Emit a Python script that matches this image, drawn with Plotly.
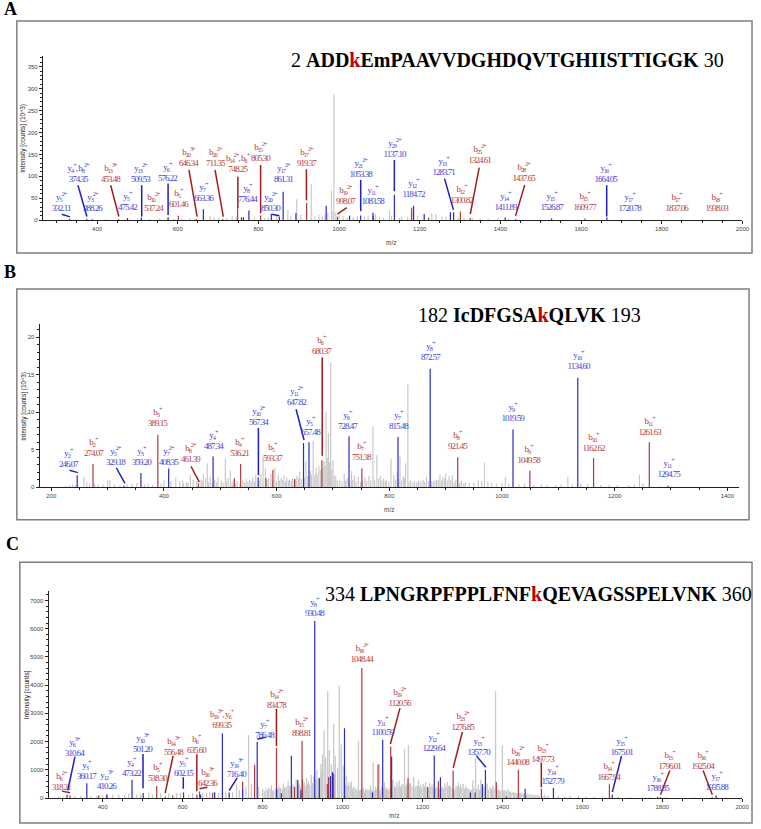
import plotly.graph_objects as go

W, H = 761, 829

# ---------- Panel A ----------
A_red_mz = [453.5, 601.5, 646.3, 711.3, 748.3, 805.3, 919.4, 996, 1085, 1180, 1222, 1300.8, 1325, 1437.7, 1609.8]
A_red_int = [3, 10, 3, 3, 26, 11, 39, 8, 10, 27, 6, 20, 5, 3, 4]
A_blue_mz = [332.1, 374.4, 388.3, 475.4, 509.5, 576.2, 663.4, 758, 763, 776.4, 832, 852, 861.3, 893, 968, 1026, 1053.4, 1084, 1137.1, 1184.7, 1211, 1276, 1284, 1411.9, 1526.9, 1664]
A_blue_int = [3, 3, 2, 5, 6, 6, 25, 7, 7, 22, 14, 8, 65, 16, 33, 10, 11, 17, 58, 33, 14, 18, 18, 6, 4, 6]
A_gray_mz = [310, 345, 420, 470, 500, 530, 555, 575, 590, 610, 630, 642, 680, 690, 702, 722, 735, 745, 790, 815, 825, 845, 873, 880, 895, 905, 931, 940, 950, 958, 965, 972, 981, 985, 987, 992, 1000, 1010, 1020, 1035, 1045, 1063, 1072, 1090, 1100, 1110, 1125, 1130, 1150, 1155, 1170, 1179, 1195, 1230, 1240, 1255, 1265, 1295, 1310, 1330, 1350, 1370, 1395, 1420]
A_gray_int = [2, 2, 2, 2, 2, 3, 4, 6, 3, 4, 5, 4, 10, 7, 6, 5, 9, 8, 6, 5, 7, 10, 23, 9, 48, 12, 83, 8, 12, 9, 14, 17, 67, 20, 287, 18, 12, 9, 6, 7, 9, 8, 10, 14, 7, 6, 22, 10, 6, 8, 7, 30, 10, 16, 14, 9, 8, 7, 6, 5, 4, 4, 5, 3]
A_names = ["y<sub>5</sub><sup>2+</sup>", "y<sub>4</sub><sup>+</sup>, b<sub>8</sub><sup>2+</sup>", "y<sub>3</sub><sup>2+</sup>", "b<sub>13</sub><sup>3+</sup>", "y<sub>5</sub><sup>+</sup>", "y<sub>13</sub><sup>2+</sup>", "b<sub>10</sub><sup>2+</sup>", "y<sub>6</sub><sup>+</sup>", "b<sub>5</sub><sup>+</sup>", "b<sub>20</sub><sup>3+</sup>", "y<sub>7</sub><sup>+</sup>", "b<sub>20</sub><sup>2+</sup>", "b<sub>14</sub><sup>2+</sup>, b<sub>6</sub><sup>+</sup>", "y<sub>8</sub><sup>+</sup>", "b<sub>15</sub><sup>2+</sup>", "y<sub>20</sub><sup>2+</sup>", "y<sub>17</sub><sup>2+</sup>", "b<sub>17</sub><sup>2+</sup>", "b<sub>19</sub><sup>2+</sup>", "y<sub>21</sub><sup>2+</sup>", "y<sub>11</sub><sup>+</sup>", "y<sub>23</sub><sup>2+</sup>", "y<sub>12</sub><sup>+</sup>", "y<sub>13</sub><sup>+</sup>", "b<sub>12</sub><sup>+</sup>", "b<sub>25</sub><sup>2+</sup>", "y<sub>14</sub><sup>+</sup>", "b<sub>28</sub><sup>2+</sup>", "y<sub>15</sub><sup>+</sup>", "b<sub>15</sub><sup>+</sup>", "y<sub>16</sub><sup>+</sup>", "y<sub>17</sub><sup>+</sup>", "b<sub>17</sub><sup>+</sup>", "b<sub>18</sub><sup>+</sup>"]
A_values = ["332.11", "374.35", "388.26", "453.48", "475.42", "509.53", "537.24", "576.22", "601.46", "646.34", "663.36", "711.35", "748.25", "776.44", "805.30", "850.30", "861.31", "919.37", "998.07", "1053.38", "1083.58", "1137.10", "1184.72", "1283.71", "1300.82", "1324.61", "1411.89", "1437.65", "1526.87", "1609.77", "1664.05", "1720.78", "1837.06", "1938.03"]
A_label_px = [62, 79, 93, 112, 129, 142, 155, 169, 180, 190, 205, 217, 240, 250, 263, 273, 286, 309, 349, 364, 376, 398, 417, 448, 466, 484, 510, 529, 557, 590, 612, 636, 683, 724]
A_label_py = [202, 173, 202, 173, 201, 173, 202, 172, 198, 157, 192, 157, 163, 193, 152, 202, 173, 157, 195, 168, 195, 148, 188, 166, 194, 154, 201, 172, 201, 201, 173, 202, 202, 202]
A_lead_blue = [(312.4, 13.7, 332.8, 7.6), (352.5, 79.7, 374.6, 8.3), (510.6, 79.7, 510.6, 8.3), (576, 83.5, 576, 12), (832.4, 13.7, 852, 10), (1053.6, 91.8, 1053.6, 20.5), (1137, 137.4, 1137, 66), (1261.4, 94.9, 1283.5, 23.5), (1663.5, 79.7, 1663.5, 8.3)]
A_lead_red = [(433.6, 79.7, 454, 8.3), (627.7, 114.6, 648, 8.3), (692.4, 114.6, 712.9, 8.3), (749, 99.4, 749, 26.6), (805.4, 126, 805.4, 16), (919, 116, 919, 45.5), (1019, 28.8, 996, 13.7), (1347.4, 120, 1325.3, 13.7), (1460.4, 80.5, 1437.5, 9.9)]

# ---------- Panel B ----------
B_red_mz = [274.1, 389.2, 461.4, 525, 536.2, 581, 593.4, 632, 680.4, 751.4, 921.5, 1049.6, 1162.6, 1261.6]
B_red_int = [3.1, 7.0, 0.5, 1.2, 3.1, 1.2, 2.3, 1.1, 3.6, 2.5, 4.0, 2.2, 3.9, 6.0]
B_blue_mz = [246.1, 329.2, 359.2, 408.4, 487.3, 567.3, 647.8, 657.5, 728.5, 815.5, 872.6, 1019.6, 1134.6, 1294.8]
B_blue_int = [1.6, 0.2, 1.9, 2.5, 4.1, 1.3, 5.9, 6.0, 6.8, 6.7, 15.8, 7.7, 14.6, 0.2]
B_gray_mz = [225, 232, 238, 243, 258, 263, 268, 277, 283, 292, 300, 304, 312, 322, 335, 343, 352, 366, 372, 380, 395, 400, 412, 421, 428, 433, 440, 447, 452, 458, 466, 470, 474, 477, 482, 490, 496, 502, 509, 514, 518, 524, 530, 540, 546, 552, 558, 563, 572, 576, 580, 586, 590, 597, 603, 608, 613, 618, 623, 628, 636, 641, 652, 660, 665, 670, 675, 684, 688, 692, 696, 700, 705, 712, 720, 725, 733, 738, 745, 757, 764, 771, 778, 784, 790, 795, 803, 808, 814, 819, 825, 829, 833, 838, 845, 852, 860, 866, 878, 884, 890, 895, 900, 906, 912, 918, 928, 935, 942, 950, 958, 964, 969, 975, 982, 990, 1000, 1006, 1012, 1030, 1040, 1056, 1070, 1080, 1095, 1105, 1117, 1125, 1140, 1152, 1175, 1190, 1205, 1225, 1235, 1244, 1250, 1280, 1300,
             435, 443, 461, 468, 479, 486, 493, 505, 511, 521, 527, 535, 543, 549, 555, 561, 569, 583, 593, 600, 605, 611, 616, 621, 626, 631, 634, 639, 644, 649, 655, 662, 668, 672, 678, 682, 686, 690, 694, 698, 702, 708, 716, 722, 730, 735, 741, 749, 753, 760, 767, 774, 781, 787, 793, 799, 811, 817, 822, 827, 835, 842, 849, 856, 863, 870, 875, 881, 887, 893, 898, 903, 909, 915, 925, 932]
B_gray_int = [0.2, 0.3, 0.4, 0.3, 1.4, 0.7, 0.5, 0.5, 0.4, 0.4, 0.9, 1.0, 0.4, 0.3, 0.4, 0.5, 0.6, 0.4, 0.5, 0.3, 0.5, 0.9, 0.8, 1.3, 0.8, 0.9, 0.7, 1.6, 1.0, 0.8, 1.0, 1.7, 1.2, 3.2, 1.4, 1.0, 1.3, 0.9, 3.8, 1.2, 2.2, 0.9, 0.8, 0.9, 1.1, 1.0, 1.3, 1.7, 1.8, 4.0, 2.5, 1.2, 1.8, 2.6, 1.7, 1.2, 1.6, 1.3, 1.0, 1.2, 1.5, 2.1, 3.5, 2.2, 6.2, 2.6, 2.8, 3.5, 10.1, 7.2, 16.6, 3.6, 1.5, 1.0, 1.8, 1.2, 2.2, 1.6, 1.4, 1.3, 1.5, 8.1, 4.3, 1.5, 1.2, 1.0, 3.8, 1.6, 2.0, 4.1, 1.5, 3.2, 13.7, 1.0, 0.8, 0.9, 1.0, 1.4, 0.8, 1.0, 1.7, 1.4, 1.8, 1.5, 1.6, 1.0, 0.9, 0.7, 0.6, 0.6, 0.9, 0.8, 3.3, 0.8, 0.6, 0.5, 0.6, 1.4, 0.5, 0.4, 0.5, 0.3, 0.4, 0.3, 0.3, 0.4, 1.4, 0.4, 0.5, 0.4, 0.3, 0.3, 0.3, 0.3, 0.4, 1.7, 0.5, 0.2, 0.2,
              0.5, 0.6, 0.6, 0.8, 0.7, 0.6, 0.7, 0.6, 0.8, 0.6, 0.5, 0.6, 0.6, 0.7, 0.8, 0.7, 0.9, 1.0, 0.9, 0.8, 0.9, 1.0, 0.8, 0.9, 0.8, 0.9, 1.0, 1.2, 1.1, 1.3, 1.5, 1.7, 1.6, 1.8, 2.3, 2.6, 2.9, 3.9, 3.3, 2.4, 1.6, 0.9, 0.8, 0.9, 0.8, 1.0, 0.8, 0.7, 0.8, 0.8, 0.9, 1.0, 1.1, 0.9, 0.8, 0.7, 1.0, 1.1, 0.9, 1.2, 0.7, 0.6, 0.7, 0.8, 0.7, 0.8, 0.8, 0.9, 1.0, 0.9, 1.1, 0.9, 1.0, 0.7, 0.6, 0.5]
B_names = ["y<sub>2</sub><sup>+</sup>", "b<sub>2</sub><sup>+</sup>", "y<sub>5</sub><sup>2+</sup>", "y<sub>3</sub><sup>+</sup>", "b<sub>3</sub><sup>+</sup>", "y<sub>7</sub><sup>2+</sup>", "b<sub>8</sub><sup>2+</sup>", "y<sub>4</sub><sup>+</sup>", "b<sub>4</sub><sup>+</sup>", "y<sub>10</sub><sup>2+</sup>", "b<sub>5</sub><sup>+</sup>", "y<sub>11</sub><sup>2+</sup>", "y<sub>5</sub><sup>+</sup>", "b<sub>6</sub><sup>+</sup>", "y<sub>6</sub><sup>+</sup>", "b<sub>7</sub><sup>+</sup>", "y<sub>7</sub><sup>+</sup>", "y<sub>8</sub><sup>+</sup>", "b<sub>8</sub><sup>+</sup>", "y<sub>9</sub><sup>+</sup>", "b<sub>9</sub><sup>+</sup>", "y<sub>10</sub><sup>+</sup>", "b<sub>10</sub><sup>+</sup>", "b<sub>11</sub><sup>+</sup>", "y<sub>11</sub><sup>+</sup>"]
B_values = ["246.07", "274.07", "329.18", "359.20", "389.15", "408.35", "461.39", "487.34", "536.21", "567.34", "593.37", "647.82", "657.48", "680.37", "728.47", "751.38", "815.48", "872.57", "921.45", "1019.59", "1049.58", "1134.60", "1162.62", "1261.63", "1294.75"]
B_label_px = [69, 94, 117, 143, 159, 170, 192, 215, 242, 261, 275, 299, 313, 324, 351, 365, 402, 434, 462, 518, 534, 584, 599, 656, 675]
B_label_py = [459, 448, 457, 457, 418, 457, 454, 441, 448, 417, 453, 397, 427, 346, 421, 452, 421, 352, 441, 413, 455, 361, 443, 427, 469]
B_lead_blue = [(232.3, 2.26, 247.5, 1.95), (315.5, 2.6, 330.8, 0.5), (567.7, 7.9, 567.7, 1.6), (634.6, 10.4, 648.7, 6.3)]
B_lead_red = [(448, 2.8, 462.8, 0.67), (681, 17.3, 681, 4.2)]

# ---------- Panel C ----------
C_red_mz = [318.2, 390, 410, 535, 556.5, 575, 635.6, 642.4, 675, 750, 780, 834.8, 880, 898.8, 900, 962, 965, 978, 1005, 1048.4, 1089, 1120.6, 1164, 1213, 1240, 1276.9, 1332, 1385, 1440.1, 1497.7, 1667.9, 1796, 1925]
C_red_int = [90, 100, 90, 430, 60, 90, 120, 230, 190, 590, 1180, 1780, 390, 2020, 670, 500, 740, 860, 120, 4610, 1190, 1830, 700, 390, 600, 980, 200, 560, 1000, 330, 490, 40, 40]
C_blue_mz = [310.6, 360.2, 410.3, 473.2, 501.2, 602.2, 645, 680, 699.4, 716.4, 750, 786.5, 835, 847, 872, 888, 896, 930.5, 942, 970, 975, 1005, 1075, 1100.6, 1123, 1229.6, 1245, 1320, 1350, 1357.7, 1410, 1457, 1527.8, 1675, 1788.9, 1935]
C_blue_int = [120, 530, 130, 650, 180, 200, 120, 210, 2300, 200, 320, 2000, 330, 170, 1500, 640, 280, 6270, 700, 780, 920, 2470, 200, 2070, 1470, 1510, 740, 200, 500, 1000, 50, 330, 360, 130, 50, 90]
C_gray_mz = [290, 300, 330, 345, 370, 385, 400, 425, 440, 455, 465, 485, 495, 515, 525, 545, 565, 585, 595, 615, 625, 650, 660, 668, 690, 708, 725, 735, 742, 758, 765, 772, 790, 800, 808, 815, 822, 828, 840, 845, 852, 858, 864, 868, 876, 884, 892, 904, 910, 915, 922, 928, 936, 946, 950, 954, 958, 963, 967, 972, 978, 982, 988, 992, 997, 1002, 1010, 1016, 1022, 1028, 1034, 1040, 1045, 1052, 1058, 1064, 1070, 1077, 1083, 1092, 1098, 1105, 1110, 1116, 1126, 1130, 1136, 1142, 1148, 1155, 1160, 1165, 1170, 1178, 1184, 1190, 1196, 1202, 1208, 1218, 1224, 1230, 1236, 1250, 1256, 1262, 1268, 1284, 1290, 1296, 1302, 1308, 1314, 1326, 1333, 1340, 1346, 1354, 1362, 1370, 1376, 1383, 1390, 1400, 1406, 1414, 1420, 1428, 1434, 1446, 1452, 1464, 1472, 1480, 1488, 1505, 1515, 1540, 1555, 1570, 1590, 1610, 1630, 1650, 1690, 1720, 1750, 1770, 1810, 1850, 1880, 1960,
             804, 812, 819, 825, 833, 837, 843, 849, 855, 861, 866, 871, 879, 887, 890, 895, 901, 907, 912, 918, 925, 931, 934, 939, 944, 948, 1007, 1013, 1019, 1025, 1031, 1037, 1043, 1048, 1055, 1061, 1067, 1073, 1080, 1086, 1095, 1102, 1108, 1113, 1119, 1123, 1133, 1139, 1145, 1151, 1158, 1163, 1168, 1174, 1181, 1187, 1193, 1199, 1205, 1211, 1215, 1221, 1227, 1233, 1239, 1243, 1247, 1253, 1259, 1265, 1271, 1275, 1280, 1287, 1293, 1299, 1305, 1311, 1317, 1320, 1323, 1329, 1336, 1343, 1349, 1357, 1365, 1373, 1379, 1387, 1393, 1397, 1403, 1410, 1417, 1424, 1431, 1437, 1443, 1449, 1456, 1460, 1468, 1476, 1484, 1492, 1500, 1510]
C_gray_int = [60, 50, 70, 80, 70, 90, 110, 130, 120, 110, 160, 130, 150, 200, 130, 170, 160, 170, 190, 140, 180, 200, 170, 230, 180, 230, 220, 480, 300, 400, 2230, 520, 400, 320, 340, 380, 450, 300, 420, 370, 520, 350, 600, 430, 480, 660, 520, 550, 700, 600, 820, 760, 980, 1200, 1540, 2390, 1450, 3780, 1700, 1200, 2620, 1500, 1050, 3980, 1900, 1150, 800, 560, 600, 420, 350, 2010, 300, 380, 340, 310, 450, 1270, 400, 1210, 420, 560, 380, 340, 640, 420, 560, 620, 480, 1750, 520, 1870, 540, 760, 420, 650, 480, 500, 580, 530, 480, 440, 400, 420, 520, 570, 460, 430, 550, 480, 500, 430, 350, 620, 1410, 480, 650, 400, 520, 380, 440, 3780, 300, 1860, 280, 320, 250, 220, 190, 200, 160, 170, 140, 120, 110, 130, 90, 100, 60, 80, 90, 60, 50, 70, 50, 30, 40, 50, 40, 30, 30, 30,
              240, 280, 320, 260, 340, 300, 360, 310, 380, 420, 340, 400, 430, 380, 450, 400, 480, 420, 500, 460, 540, 470, 620, 700, 760, 980, 480, 430, 450, 340, 300, 280, 260, 300, 240, 280, 260, 300, 270, 330, 300, 360, 320, 290, 340, 400, 380, 450, 400, 480, 430, 460, 500, 420, 380, 440, 400, 370, 420, 380, 340, 400, 360, 340, 300, 330, 360, 320, 380, 430, 390, 340, 300, 420, 390, 350, 320, 340, 310, 260, 300, 360, 330, 290, 340, 280, 300, 320, 360, 300, 270, 250, 280, 240, 220, 200, 190, 170, 180, 160, 150, 130, 120, 100, 90, 80, 70, 60]
C_names = ["b<sub>6</sub><sup>2+</sup>", "y<sub>6</sub><sup>3+</sup>", "y<sub>3</sub><sup>+</sup>", "y<sub>12</sub><sup>3+</sup>", "y<sub>4</sub><sup>+</sup>", "y<sub>10</sub><sup>3+</sup>", "b<sub>5</sub><sup>+</sup>", "b<sub>14</sub><sup>3+</sup>", "y<sub>5</sub><sup>+</sup>", "b<sub>6</sub><sup>+</sup>", "b<sub>16</sub><sup>3+</sup>", "b<sub>19</sub><sup>3+</sup>, y<sub>6</sub><sup>+</sup>", "y<sub>19</sub><sup>3+</sup>", "y<sub>7</sub><sup>+</sup>", "b<sub>14</sub><sup>2+</sup>", "b<sub>15</sub><sup>2+</sup>", "y<sub>8</sub><sup>+</sup>", "b<sub>18</sub><sup>2+</sup>", "y<sub>11</sub><sup>+</sup>", "b<sub>19</sub><sup>2+</sup>", "y<sub>12</sub><sup>+</sup>", "b<sub>23</sub><sup>2+</sup>", "y<sub>13</sub><sup>+</sup>", "b<sub>26</sub><sup>2+</sup>", "b<sub>13</sub><sup>+</sup>", "y<sub>14</sub><sup>+</sup>", "b<sub>14</sub><sup>+</sup>", "y<sub>15</sub><sup>+</sup>", "y<sub>16</sub><sup>+</sup>", "b<sub>15</sub><sup>+</sup>", "b<sub>16</sub><sup>+</sup>", "y<sub>17</sub><sup>+</sup>"]
C_values = ["318.21", "310.64", "360.17", "410.26", "473.22", "501.20", "538.30", "556.48", "602.15", "635.60", "642.36", "699.35", "716.40", "786.48", "834.78", "898.81", "930.48", "1048.44", "1100.59", "1120.56", "1229.64", "1276.85", "1357.70", "1440.08", "1497.73", "1527.79", "1667.94", "1675.01", "1788.85", "1796.01", "1925.04", "1935.88"]
C_label_px = [62, 75, 87, 107, 133, 144, 159, 175, 185, 198, 209, 224, 239, 267, 279, 304, 317, 365, 386, 403, 438, 467, 483, 523, 548, 558, 615, 627, 664, 676, 710, 724]
C_label_py = [783, 749, 772, 782, 769, 745, 774, 748, 769, 746, 779, 721, 770, 731, 701, 729, 609, 655, 728, 699, 744, 723, 748, 758, 755, 777, 773, 748, 784, 762, 762, 783]
C_lead_blue = [(330.6, 1470, 312.4, 270), (500.8, 1564, 500.8, 353), (601.6, 741, 601.6, 329), (736.4, 717, 716.5, 270), (807.4, 2152, 786.8, 2082), (1334.7, 1505, 1358.7, 1094), (1698.3, 1493, 1675.2, 212)]
C_lead_red = [(297.5, 247, 318.2, 188), (576, 1493, 556.2, 176), (635.5, 1552, 635.5, 247), (662, 388, 642.1, 329), (834.7, 3152, 834.7, 1846), (1143.8, 3187, 1119.8, 1917), (1300, 2340, 1276.9, 1070), (1497.5, 1258, 1497.5, 388), (1819, 976, 1795.8, 118), (1902.4, 976, 1925.5, 118)]

GRAY, RED, BLUE = "#c9c9c9", "#b23a3a", "#2b2bc8"
RED_TXT, BLUE_TXT = "#b5403c", "#3f3fdc"
LEAD_RED, LEAD_BLUE = "#a31c1c", "#1f1fc0"

def px_x(p): return p / W
def px_y(p): return 1 - p / H

def stems(mz, it):
    xs, ys = [], []
    for m, v in zip(mz, it):
        xs += [m, m, None]
        ys += [0, v, None]
    return xs, ys

def leads(segs):
    xs, ys = [], []
    for x0, y0, x1, y1 in segs:
        xs += [x0, x1, None]
        ys += [y0, y1, None]
    return xs, ys

panels = [
    dict(key="", gray=(A_gray_mz, A_gray_int), red=(A_red_mz, A_red_int), blue=(A_blue_mz, A_blue_int),
         lr=A_lead_red, lb=A_lead_blue, names=A_names, values=A_values, lx=A_label_px, ly=A_label_py,
         xr=[265.6, 2000], yr=[0, 375], dom=(43.3, 749.3, 56, 221), ydt=50, ymt=10, ymax=350, gw=1.2,
         frame=(17, 21, 759, 254), ylab="Intensity [counts] (10^3)", ylp=(23.5, 139), mz=(395, 243)),
    dict(key="2", gray=(B_gray_mz, B_gray_int), red=(B_red_mz, B_red_int), blue=(B_blue_mz, B_blue_int),
         lr=B_lead_red, lb=B_lead_blue, names=B_names, values=B_values, lx=B_label_px, ly=B_label_py,
         xr=[179.4, 1421], yr=[0, 21.8], dom=(40, 746, 325, 489), ydt=5, ymt=1, ymax=20, gw=1.2,
         frame=(17, 290, 756, 521.7), ylab="Intensity [counts] (10^3)", ylp=(23.5, 408), mz=(393, 511.5)),
    dict(key="3", gray=(C_gray_mz, C_gray_int), red=(C_red_mz, C_red_int), blue=(C_blue_mz, C_blue_int),
         lr=C_lead_red, lb=C_lead_blue, names=C_names, values=C_values, lx=C_label_px, ly=C_label_py,
         xr=[264.4, 2000], yr=[0, 7350], dom=(49, 749, 592.7, 801), ydt=1000, ymt=200, ymax=7000, gw=1.3,
         frame=(20, 564.3, 759, 826), ylab="Intensity [counts]", ylp=(28, 697), mz=(398, 818)),
]

fig = go.Figure()
annotations, shapes = [], []
tick_font = dict(family="Liberation Sans", size=6, color="#444444")

for p in panels:
    k = p["key"]
    xa, ya = "x" + k, "y" + k
    for (mz, it), col, w in ((p["gray"], GRAY, p["gw"]), (p["red"], RED, 1.2), (p["blue"], BLUE, 1.2)):
        xs, ys = stems(mz, it)
        fig.add_trace(go.Scatter(x=xs, y=ys, mode="lines", line=dict(color=col, width=w),
                                 hoverinfo="skip", showlegend=False, xaxis=xa, yaxis=ya))
    for segs, col in ((p["lr"], LEAD_RED), (p["lb"], LEAD_BLUE)):
        xs, ys = leads(segs)
        fig.add_trace(go.Scatter(x=xs, y=ys, mode="lines", line=dict(color=col, width=1.5),
                                 hoverinfo="skip", showlegend=False, xaxis=xa, yaxis=ya))
    x0, x1, y0, y1 = p["dom"]
    common = dict(showgrid=False, zeroline=False, showline=True, linecolor="#222222", linewidth=1,
                  ticks="outside", tickcolor="#222222", tickwidth=1, tickfont=tick_font)
    fig.update_layout({
        "xaxis" + k: dict(domain=[px_x(x0), px_x(x1)], range=p["xr"], anchor=ya, dtick=200, tick0=0, ticklen=3,
                          minor=dict(dtick=50, tick0=0, ticks="outside", ticklen=2, tickcolor="#222222"), **common),
        "yaxis" + k: dict(domain=[px_y(y1), px_y(y0)], range=p["yr"], anchor=xa, dtick=p["ydt"], tick0=0, ticklen=3,
                          minor=dict(dtick=p["ymt"], tick0=0, ticks="outside", ticklen=2, tickcolor="#222222"), **common),
    })
    for name, val, lx, ly in zip(p["names"], p["values"], p["lx"], p["ly"]):
        col = RED_TXT if name.startswith("b") else BLUE_TXT
        annotations.append(dict(text=f"{name}<br>{val}", x=px_x(lx), y=px_y(ly), xref="paper", yref="paper",
                                showarrow=False, xanchor="center", yanchor="middle",
                                font=dict(family="Liberation Serif", size=9, color=col)))
    fx0, fy0, fx1, fy1 = p["frame"]
    shapes.append(dict(type="rect", xref="paper", yref="paper", x0=px_x(fx0), x1=px_x(fx1), y0=px_y(fy1), y1=px_y(fy0),
                       line=dict(color="#7f7f7f", width=1.5), layer="below"))
    annotations.append(dict(text=p["ylab"], x=px_x(p["ylp"][0]), y=px_y(p["ylp"][1]), xref="paper", yref="paper",
                            showarrow=False, textangle=-90, xanchor="center", yanchor="middle",
                            font=dict(family="Liberation Sans", size=6.5, color="#222222")))
    annotations.append(dict(text="m/z", x=px_x(p["mz"][0]), y=px_y(p["mz"][1]), xref="paper", yref="paper",
                            showarrow=False, xanchor="center", yanchor="middle",
                            font=dict(family="Liberation Sans", size=6.5, color="#444444")))

titles = [
    ("2 <b>ADD<span style='color:#c00000'>k</span>EmPAAVVDGHDQVTGHIISTTIGGK</b> 30", 292, 60),
    ("182 <b>IcDFGSA<span style='color:#c00000'>k</span>QLVK</b> 193", 420, 316),
    ("334 <b>LPNGRPFPPLFNF<span style='color:#c00000'>k</span>QEVAGSSPELVNK</b> 360", 326, 596),
]
for txt, tx, ty in titles:
    annotations.append(dict(text=txt, x=px_x(tx), y=px_y(ty), xref="paper", yref="paper", showarrow=False,
                            xanchor="left", yanchor="middle", font=dict(family="Liberation Serif", size=20, color="#000000")))
for txt, tx, ty in (("A", 2, 9), ("B", 2, 273), ("C", 4, 546)):
    annotations.append(dict(text=f"<b>{txt}</b>", x=px_x(tx), y=px_y(ty), xref="paper", yref="paper", showarrow=False,
                            xanchor="left", yanchor="middle", font=dict(family="Liberation Serif", size=18, color="#000000")))

fig.update_layout(width=W, height=H, margin=dict(l=0, r=0, t=0, b=0), paper_bgcolor="white", plot_bgcolor="white",
                  showlegend=False, annotations=annotations, shapes=shapes)

post = """
document.body.style.margin='0';
var s=document.createElement('style');
s.textContent='.annotation-text[style*="font-size: 9px"]{letter-spacing:-1px}';
document.head.appendChild(s);
"""
fig.write_html("out.html", post_script=post, config=dict(displayModeBar=False))
